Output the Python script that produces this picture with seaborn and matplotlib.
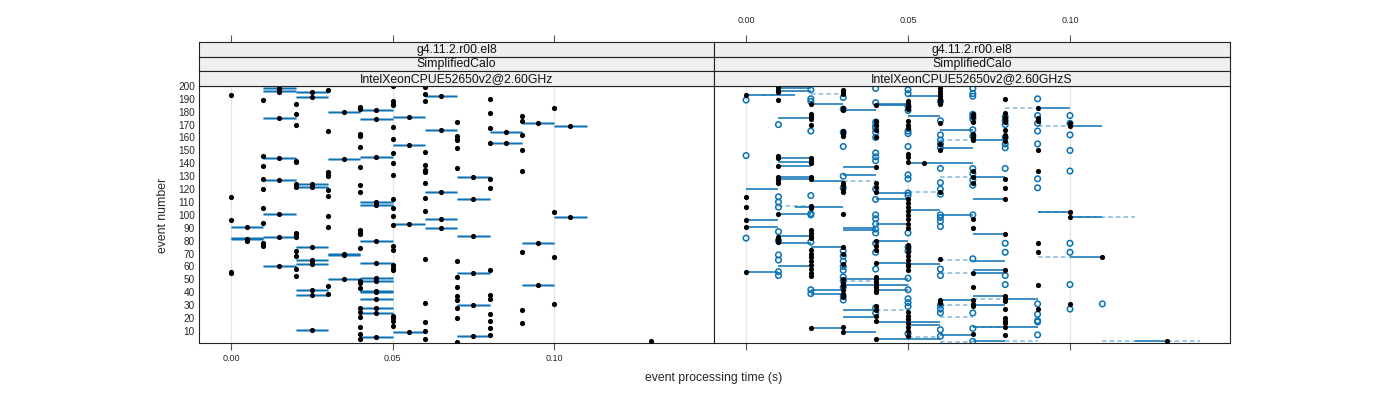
import matplotlib
matplotlib.use("Agg")
import matplotlib.pyplot as plt
import seaborn as sns
import numpy as np
import pandas as pd

# ---------------- data ----------------
strip_levels = ["g4.11.2.r00.el8", "SimplifiedCalo"]
panel_titles = ["IntelXeonCPUE52650v2@2.60GHz", "IntelXeonCPUE52650v2@2.60GHzS"]
x_ticks = [0.00, 0.05, 0.10]
x_ticklabels = ["0.00", "0.05", "0.10"]
y_ticks = list(range(10, 201, 10))
x_label = "event processing time (s)"
y_label = "event number"

# left panel: measured points (time, event)
left_dot_x = ([0.00]*5 + [0.005]*3 + [0.01]*10 + [0.015]*9 + [0.02]*14 + [0.025]*11 + [0.03]*11
              + [0.035]*5 + [0.04]*23 + [0.045]*15 + [0.05]*22 + [0.055]*4 + [0.06]*16 + [0.065]*5
              + [0.07]*14 + [0.075]*6 + [0.08]*13 + [0.085]*2 + [0.09]*8 + [0.095]*3 + [0.10]*4
              + [0.105]*2 + [0.13]*1)
left_dot_y = ([193, 114, 96, 56, 55]
              + [91, 81, 80]
              + [189, 146, 138, 128, 120, 105, 94, 78, 77, 76]
              + [198, 196, 195, 175, 144, 127, 101, 83, 60]
              + [186, 178, 170, 142, 141, 124, 122, 86, 85, 83, 72, 68, 58, 53]
              + [195, 191, 124, 122, 75, 65, 64, 62, 42, 38, 11]
              + [197, 165, 133, 131, 130, 119, 115, 99, 91, 45, 39]
              + [180, 143, 70, 69, 50]
              + [184, 183, 182, 163, 162, 161, 153, 137, 123, 118, 88, 86, 85, 74, 49, 47, 43, 28, 25, 21, 13, 8, 4]
              + [181, 174, 145, 110, 108, 80, 63, 51, 49, 41, 40, 35, 28, 24, 5]
              + [200, 188, 186, 185, 168, 159, 148, 140, 131, 112, 105, 99, 92, 76, 73, 61, 59, 57, 22, 20, 18, 14]
              + [176, 154, 93, 9]
              + [199, 194, 188, 149, 139, 135, 134, 133, 125, 113, 103, 66, 32, 17, 10, 4]
              + [192, 166, 118, 97, 90]
              + [172, 161, 159, 158, 152, 136, 64, 52, 44, 37, 34, 28, 20, 1.5]
              + [129, 112, 84, 55, 30, 6]
              + [190, 179, 167, 156, 128, 121, 57, 38, 35, 23, 18, 12, 7]
              + [164, 156]
              + [177, 173, 162, 150, 134, 71, 26, 16]
              + [171, 78, 46]
              + [183, 102, 67, 31]
              + [169, 98]
              + [2])

# left panel: time intervals (start, end, event)
left_seg_x0 = ([0.00]*3 + [0.01]*8 + [0.02]*10 + [0.03]*5 + [0.04]*15 + [0.05]*4 + [0.06]*5
               + [0.07]*6 + [0.08]*2 + [0.09]*3 + [0.10]*2)
left_seg_x1 = ([0.01]*3 + [0.02]*8 + [0.03]*10 + [0.04]*5 + [0.05]*15 + [0.06]*4 + [0.07]*5
               + [0.08]*6 + [0.09]*2 + [0.10]*3 + [0.11]*2)
left_seg_y = ([91, 82, 81]
              + [198, 196, 175, 144, 127, 101, 83, 60]
              + [195, 191, 124, 122, 75, 65, 62, 42, 38, 11]
              + [180, 143, 70, 69, 50]
              + [181, 174, 145, 110, 108, 80, 63, 51, 49, 41, 40, 35, 28, 24, 5]
              + [176, 154, 93, 9]
              + [192, 166, 118, 97, 90]
              + [129, 112, 84, 55, 30, 6]
              + [164, 156]
              + [171, 78, 46]
              + [169, 98])

# right panel: filled points (time, event)
right_black = {
    0.00: [193, 114, 106, 96, 91, 56],
    0.01: [199, 197, 195, 189, 146, 144, 138, 129, 127, 125, 101, 83, 81, 79],
    0.02: [186, 178, 176, 174, 170, 144, 142, 140, 129, 128, 107, 105, 88, 86, 84, 82, 73, 70, 67, 64, 61, 58, 55, 53, 12],
    0.03: [197, 195, 194, 183, 181, 165, 163, 161, 125, 123, 120, 118, 101, 75, 70, 62, 50, 47, 45, 42, 39, 36, 13, 9],
    0.04: [185, 173, 170, 166, 160, 137, 125, 122, 118, 80, 76, 73, 63, 52, 50, 48, 46, 44, 42, 40, 29, 26, 22, 18, 4],
    0.05: [188, 186, 184, 182, 173, 170, 167, 147, 145, 141, 112, 109, 106, 103, 100, 97, 93, 90, 77, 74, 71, 68, 65, 62, 60, 57, 25, 22, 19, 16, 13, 10, 6],
    0.055: [140],
    0.06: [198, 196, 194, 192, 190, 188, 186, 171, 155, 150, 118, 66, 34, 32],
    0.07: [178, 176, 172, 163, 160, 158, 134, 129, 125, 97, 90, 55, 44, 34, 31, 29, 8],
    0.08: [190, 179, 176, 174, 172, 166, 162, 160, 157, 128, 121, 112, 85, 57, 37, 35, 33, 27, 20, 18, 16, 13, 7],
    0.09: [183, 175, 173, 150, 134, 78, 71, 46, 27],
    0.10: [171, 169, 102, 98, 31],
    0.11: [67],
    0.13: [2.5],
}
# right panel: open points (time, event)
right_open = {
    0.00: [189, 146, 82],
    0.01: [170, 114, 110, 106, 87, 80, 69, 65, 56, 53],
    0.02: [197, 190, 188, 165, 115, 101, 100, 79, 42, 39],
    0.03: [191, 182, 164, 153, 130, 121, 72, 68, 64, 60, 57, 52, 49, 44, 37, 34],
    0.04: [198, 187, 172, 169, 167, 164, 160, 148, 145, 142, 120, 112, 100, 97, 93, 89, 86, 78, 71, 58, 28, 24],
    0.05: [197, 194, 184, 181, 165, 163, 153, 131, 128, 117, 115, 86, 75, 72, 51, 42, 35, 32, 29, 8],
    0.06: [188, 173, 162, 158, 155, 152, 136, 125, 120, 116, 100, 98, 95, 91, 58, 53, 30, 27, 24, 11, 6],
    0.07: [198, 194, 192, 178, 176, 174, 166, 161, 136, 132, 127, 123, 100, 66, 24, 12, 2],
    0.08: [176, 173, 170, 160, 155, 152, 136, 78, 71, 53, 46],
    0.09: [190, 177, 171, 165, 155, 128, 121, 31, 23, 18, 17, 7],
    0.10: [177, 171, 162, 150, 134, 78, 71, 46, 27],
    0.11: [31],
}
# right panel: solid intervals (start, end, event)
right_solid_x0 = [0.00, 0.01, 0.01, 0.02, 0.01, 0.03, 0.04, 0.04, 0.05, 0.05, 0.06, 0.06, 0.07, 0.09, 0.10,
                  0.01, 0.01, 0.01, 0.03, 0.05, 0.03, 0.07, 0.01, 0.01, 0.02, 0.00, 0.04, 0.07, 0.04, 0.015,
                  0.05, 0.06, 0.09, 0.10, 0.01, 0.00, 0.00, 0.01, 0.01, 0.02, 0.01, 0.00, 0.03, 0.03, 0.04,
                  0.04, 0.05, 0.04, 0.07, 0.07, 0.07, 0.07, 0.10, 0.02, 0.02, 0.03, 0.03, 0.04, 0.07, 0.08,
                  0.07, 0.03, 0.03, 0.04, 0.05, 0.05, 0.06, 0.07, 0.08, 0.02, 0.03, 0.04, 0.06, 0.07, 0.12]
right_solid_x1 = [0.015, 0.02, 0.02, 0.03, 0.02, 0.04, 0.05, 0.05, 0.06, 0.06, 0.07, 0.07, 0.08, 0.10, 0.11,
                  0.02, 0.02, 0.02, 0.04, 0.07, 0.04, 0.08, 0.02, 0.02, 0.03, 0.01, 0.05, 0.08, 0.05, 0.03,
                  0.06, 0.07, 0.10, 0.11, 0.02, 0.01, 0.01, 0.02, 0.02, 0.03, 0.02, 0.01, 0.04, 0.04, 0.05,
                  0.05, 0.06, 0.05, 0.08, 0.08, 0.08, 0.08, 0.11, 0.03, 0.03, 0.05, 0.05, 0.05, 0.08, 0.09,
                  0.08, 0.04, 0.04, 0.05, 0.06, 0.06, 0.07, 0.08, 0.09, 0.03, 0.04, 0.06, 0.07, 0.08, 0.13]
right_solid_y = [193, 198, 196, 186, 175, 181, 185, 186, 192, 177, 166, 152, 158, 183, 169,
                 144, 141, 138, 137, 140, 131, 129, 129, 128, 126, 120, 117, 112, 112, 106,
                 104, 100, 102, 98, 101, 96, 91, 84, 78, 75, 60, 56, 90, 88, 80,
                 63, 62, 93, 85, 64, 57, 55, 67, 42, 39, 50, 46, 42, 37, 35,
                 30, 26, 21, 17, 17, 15, 34, 13, 13, 12, 9, 4, 7, 2, 2.5]
# right panel: dashed intervals (start, end, event)
right_dash_x0 = [0.005, 0.02, 0.06, 0.03, 0.05, 0.01, 0.06, 0.08, 0.09, 0.09, 0.10, 0.09, 0.03, 0.04,
                 0.06, 0.06, 0.06, 0.06, 0.05, 0.07, 0.07, 0.08, 0.06, 0.11, 0.13]
right_dash_x1 = [0.01, 0.03, 0.07, 0.04, 0.06, 0.02, 0.07, 0.09, 0.10, 0.10, 0.12, 0.10, 0.04, 0.05,
                 0.07, 0.07, 0.07, 0.07, 0.06, 0.08, 0.08, 0.09, 0.07, 0.12, 0.14]
right_dash_y = [193, 194, 158, 126, 118, 107, 129, 183, 169, 102, 98, 67, 49, 26,
                65, 55, 30, 21, 5, 35, 13, 2, 1.5, 2.5, 2.5]

# ---------------- style ----------------
sns.set_theme(style="white")
plt.rcParams["font.family"] = ["Liberation Sans", "DejaVu Sans"]

BLUE = "#0b72b4"
LIGHT = "#86b9dd"
GRID = "#e5e5e5"
STRIP = "#efefef"
XLIM = (-0.0099, 0.1494)
YLIM = (0.7, 200.3)

fig = plt.figure(figsize=(14, 4), dpi=100)
W, H = 1400, 400
def frac(x0, y0, x1, y1):
    return [x0 / W, 1 - y1 / H, (x1 - x0) / W, (y1 - y0) / H]

panel_px = [(199, 714), (714, 1230)]
strip_rows = [(42, 56.5), (56.5, 71), (71, 85.5)]
axes = []
for i, (px0, px1) in enumerate(panel_px):
    ax = fig.add_axes(frac(px0, 85.5, px1, 343))
    ax.set_xlim(*XLIM)
    ax.set_ylim(*YLIM)
    for t in x_ticks:
        ax.axvline(t, color=GRID, lw=0.9, zorder=0)
    axes.append(ax)
    labels = strip_levels + [panel_titles[i]]
    for j, (sy0, sy1) in enumerate(strip_rows):
        sax = fig.add_axes(frac(px0, sy0, px1, sy1))
        sax.set_facecolor(STRIP)
        sax.set_xlim(*XLIM)
        sax.set_yticks([])
        sax.text(0.5, 0.45, labels[j], transform=sax.transAxes, ha="center", va="center",
                 fontsize=8.8, color="#111111")
        for s in sax.spines.values():
            s.set_color("#222222")
            s.set_linewidth(0.8)
        if j == 0:
            sax.set_xticks(x_ticks)
            sax.tick_params(axis="x", which="both", bottom=False, labelbottom=False, top=True,
                            labeltop=(i == 1), length=5, width=0.8, color="#555555",
                            labelsize=6.5, pad=7, direction="out")
            if i == 1:
                sax.set_xticklabels(x_ticklabels)
        else:
            sax.set_xticks([])

axL, axR = axes

# left panel
axL.hlines(left_seg_y, left_seg_x0, left_seg_x1, color=LIGHT, lw=2.0, zorder=2)
axL.hlines(left_seg_y, left_seg_x0, left_seg_x1, color=BLUE, lw=0.9, zorder=3)
dfL = pd.DataFrame({"t": left_dot_x, "ev": left_dot_y})
sns.scatterplot(data=dfL, x="t", y="ev", ax=axL, color="black", s=14, linewidth=0, zorder=4, legend=False)

# right panel
axR.hlines(right_dash_y, right_dash_x0, right_dash_x1, color=LIGHT, lw=1.1, linestyles=(0, (3, 2)), zorder=2)
axR.hlines(right_solid_y, right_solid_x0, right_solid_x1, color=BLUE, lw=1.1, zorder=3)
bx = [k for k, v in right_black.items() for _ in v]
by = [e for v in right_black.values() for e in v]
ox = [k for k, v in right_open.items() for _ in v]
oy = [e for v in right_open.values() for e in v]
dfO = pd.DataFrame({"t": ox, "ev": oy})
dfB = pd.DataFrame({"t": bx, "ev": by})
sns.scatterplot(data=dfO, x="t", y="ev", ax=axR, marker="o", s=16, facecolor="none",
                edgecolor=BLUE, linewidth=1.1, zorder=4, legend=False)
sns.scatterplot(data=dfB, x="t", y="ev", ax=axR, color="black", s=14, linewidth=0, zorder=5, legend=False)

for i, ax in enumerate(axes):
    ax.set_xlabel("")
    ax.set_ylabel("")
    ax.set_xticks(x_ticks)
    ax.set_yticks(y_ticks)
    ax.tick_params(axis="x", which="both", bottom=True, top=False, length=5, width=0.8,
                   color="#555555", labelsize=6.5, pad=3, direction="out", labelbottom=(i == 0))
    if i == 0:
        ax.set_xticklabels(x_ticklabels)
    ax.tick_params(axis="y", length=0, labelsize=7.2, pad=3, labelleft=(i == 0))
    for s in ax.spines.values():
        s.set_color("#222222")
        s.set_linewidth(0.8)
    ax.set_facecolor("white")

fig.text(163 / W, 1 - 215 / H, y_label, rotation=90, ha="center", va="center", fontsize=8.8)
fig.text(714 / W, 1 - 378 / H, x_label, ha="center", va="center", fontsize=8.8)

fig.savefig("out.png", dpi=100, facecolor="white")
